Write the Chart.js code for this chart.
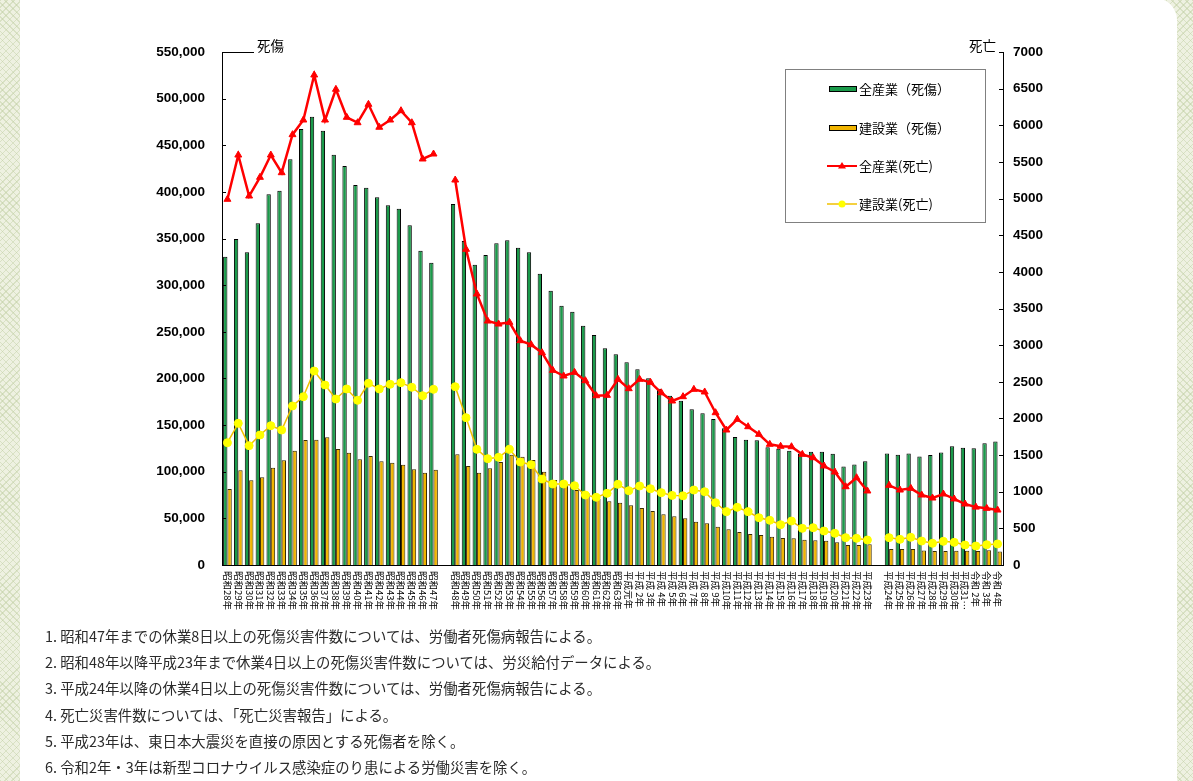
<!DOCTYPE html>
<html lang="ja">
<head>
<meta charset="utf-8">
<title>労働災害発生状況の推移</title>
<script src="https://cdn.jsdelivr.net/npm/chart.js@4/dist/chart.umd.min.js"></script>
<style>
  html, body { margin: 0; padding: 0; }
  body {
    width: 1193px;
    height: 781px;
    overflow: hidden;
    position: relative;
    background-color: #eef1e1;
    background-image:
      repeating-linear-gradient(45deg, rgba(190, 205, 160, 0.45) 0 1px, transparent 1px 5px),
      repeating-linear-gradient(-45deg, rgba(190, 205, 160, 0.45) 0 1px, transparent 1px 5px);
  }
  .panel {
    position: absolute;
    left: 20px;
    top: -2px;
    width: 1157px;
    height: 830px;
    background: #fff;
    border-radius: 0 22px 0 0;
  }
  #chart-wrap { position: absolute; left: 0; top: 0; width: 1193px; height: 625px; }
  .notes {
    position: absolute;
    left: 45px;
    top: 623px;
    font-family: "Noto Sans CJK JP", "Noto Sans", sans-serif;
    font-size: 14.4px;
    line-height: 26.2px;
    color: #2b2b2b;
  }
</style>
</head>
<body>
<div class="panel"></div>
<div id="chart-wrap"><canvas id="accident-chart" width="1193" height="625"></canvas></div>
<div class="notes">
  <div>1. 昭和47年までの休業8日以上の死傷災害件数については、労働者死傷病報告による。</div>
  <div>2. 昭和48年以降平成23年まで休業4日以上の死傷災害件数については、労災給付データによる。</div>
  <div>3. 平成24年以降の休業4日以上の死傷災害件数については、労働者死傷病報告による。</div>
  <div>4. 死亡災害件数については、「死亡災害報告」による。</div>
  <div>5. 平成23年は、東日本大震災を直接の原因とする死傷者を除く。</div>
  <div>6. 令和2年・3年は新型コロナウイルス感染症のり患による労働災害を除く。</div>
</div>
<script>
// Year labels (empty strings are the breaks in the series)
const yearLabels = [
  "昭和28年", "昭和29年", "昭和30年", "昭和31年", "昭和32年", "昭和33年", "昭和34年",
  "昭和35年", "昭和36年", "昭和37年", "昭和38年", "昭和39年", "昭和40年", "昭和41年",
  "昭和42年", "昭和43年", "昭和44年", "昭和45年", "昭和46年", "昭和47年",
  "",
  "昭和48年", "昭和49年", "昭和50年", "昭和51年", "昭和52年", "昭和53年", "昭和54年",
  "昭和55年", "昭和56年", "昭和57年", "昭和58年", "昭和59年", "昭和60年", "昭和61年",
  "昭和62年", "昭和63年",
  "平成元年", "平成 2年", "平成 3年", "平成 4年", "平成 5年", "平成 6年", "平成 7年",
  "平成 8年", "平成 9年", "平成10年", "平成11年", "平成12年", "平成13年", "平成14年",
  "平成15年", "平成16年", "平成17年", "平成18年", "平成19年", "平成20年", "平成21年",
  "平成22年", "平成23年",
  "",
  "平成24年", "平成25年", "平成26年", "平成27年", "平成28年", "平成29年", "平成30年",
  "平成31…", "令和 2年", "令和 3年", "令和 4年",
];

// 全産業（死傷） - left axis
const allCasualties = [
  330500, 349500, 335200, 366300, 397400, 401300, 434900, 467400, 480600, 465600,
  439900, 427800, 407400, 404500, 394200, 385600, 382000, 364200, 337000, 324100,
  null,
  387000, 347400, 322000, 332400, 344900, 348100, 340200, 335200, 312300, 294100,
  278000, 271600, 256600, 246600, 232300, 225900,
  217300, 209800, 200200, 189000, 181500, 176100, 166900, 162600, 156500, 146500,
  137200, 134300, 133700, 126200, 124700, 122500, 119500, 121400, 121300, 119300,
  105700, 107800, 111300,
  null,
  119600, 118200, 119500, 116300, 117900, 120500, 127300, 125600, 125100, 130600, 132400,
];

// 建設業（死傷） - left axis
const constructionCasualties = [
  81500, 101500, 90800, 94000, 104300, 112200, 122600, 134000, 134300, 136900,
  124400, 120400, 113300, 116900, 111200, 109700, 107500, 102600, 99000, 102200,
  null,
  118700, 106100, 99000, 103700, 110400, 118300, 116100, 112600, 100000, 91100,
  85800, 80400, 76900, 70800, 68300, 66800,
  64000, 61100, 57900, 54400, 52200, 50100, 46400, 44700, 41100, 38300,
  35400, 33200, 32200, 30400, 28900, 28600, 27100, 26500, 26100, 24300,
  21400, 21400, 22200,
  null,
  17100, 17200, 17200, 15600, 15100, 15100, 15400, 15200, 15000, 15700, 14500,
];

// 全産業(死亡) - right axis
const allDeaths = [
  4990, 5594, 5035, 5290, 5594, 5353, 5872, 6072, 6686, 6072,
  6491, 6109, 6035, 6286, 5973, 6072, 6199, 6035, 5540, 5608,
  null,
  5253, 4308, 3698, 3329, 3288, 3311, 3061, 3006, 2897, 2656,
  2579, 2629, 2515, 2310, 2315, 2534,
  2406, 2534, 2493, 2350, 2238, 2297, 2397, 2361, 2078, 1842,
  1988, 1887, 1783, 1647, 1620, 1614, 1510, 1464, 1351, 1269,
  1068, 1191, 1010,
  null,
  1087, 1023, 1046, 955, 914, 969, 901, 832, 790, 773, 750,
];

// 建設業(死亡) - right axis
const constructionDeaths = [
  1669, 1933, 1628, 1774, 1901, 1842, 2170, 2297, 2647, 2456,
  2265, 2402, 2247, 2479, 2402, 2466, 2488, 2425, 2310, 2397,
  null,
  2433, 2010, 1579, 1451, 1469, 1579, 1405, 1369, 1173, 1105,
  1105, 1082, 955, 924, 978, 1101,
  1014, 1078, 1041, 987, 950, 944, 1023, 1000, 850, 727,
  787, 727, 645, 610, 550, 600, 500, 509, 464, 433,
  373, 364, 341,
  null,
  373, 350, 378, 327, 296, 323, 309, 273, 259, 277, 287,
];

const casualtyTicks = { min: 0, max: 550000, step: 50000 };
const deathTicks = { min: 0, max: 7000, step: 500 };

const numFont = { family: "'Liberation Sans', Arial, sans-serif", size: 13.5, weight: "bold" };
const jpFont = "'Noto Sans CJK JP', 'Noto Sans', sans-serif";

// Draws rotated year labels, inward tick marks, axis titles and the boxed legend
const decorations = {
  id: "decorations",
  afterDraw(chart) {
    const ctx = chart.ctx;
    const x = chart.scales.x;
    const yL = chart.scales.y;
    const yR = chart.scales.y2;
    const area = chart.chartArea;

    ctx.save();

    // year labels, reading top to bottom
    ctx.fillStyle = "#000";
    ctx.font = "9.5px " + jpFont;
    ctx.textAlign = "left";
    ctx.textBaseline = "middle";
    yearLabels.forEach((label, i) => {
      if (!label) return;
      ctx.save();
      ctx.translate(x.getPixelForValue(i), area.bottom + 6);
      ctx.rotate(Math.PI / 2);
      ctx.fillText(label, 0, 0);
      ctx.restore();
    });

    // inward tick marks
    ctx.strokeStyle = "#000";
    ctx.lineWidth = 1;
    ctx.beginPath();
    for (let v = casualtyTicks.min; v <= casualtyTicks.max; v += casualtyTicks.step) {
      const py = Math.round(yL.getPixelForValue(v)) + 0.5;
      ctx.moveTo(area.left, py);
      ctx.lineTo(area.left + 4, py);
    }
    for (let v = deathTicks.min; v <= deathTicks.max; v += deathTicks.step) {
      const py = Math.round(yR.getPixelForValue(v)) + 0.5;
      ctx.moveTo(area.right - 4, py);
      ctx.lineTo(area.right, py);
    }
    // short top edge next to the left title
    ctx.moveTo(area.left, Math.round(area.top) + 0.5);
    ctx.lineTo(area.left + 32, Math.round(area.top) + 0.5);
    ctx.stroke();

    // axis titles
    ctx.font = "13.5px " + jpFont;
    ctx.textBaseline = "alphabetic";
    ctx.textAlign = "left";
    ctx.fillText("死傷", area.left + 35, area.top - 1);
    ctx.textAlign = "right";
    ctx.fillText("死亡", area.right - 7, area.top - 1);

    // legend box
    const box = { left: 785.5, top: 69.5, width: 200, height: 153 };
    ctx.fillStyle = "#fff";
    ctx.fillRect(box.left, box.top, box.width, box.height);
    ctx.strokeStyle = "#808080";
    ctx.strokeRect(box.left, box.top, box.width, box.height);

    const rows = [89, 128, 166, 204];
    chart.data.datasets.forEach((ds, i) => {
      const ry = rows[i];
      if (ds.type === "bar") {
        ctx.fillStyle = ds.backgroundColor;
        ctx.fillRect(829.5, ry - 2.5, 27, 5);
        ctx.strokeStyle = "#000";
        ctx.strokeRect(829.5, ry - 2.5, 27, 5);
      } else {
        ctx.strokeStyle = ds.borderColor;
        ctx.lineWidth = i === 2 ? 2 : 1.5;
        ctx.beginPath();
        ctx.moveTo(827, ry);
        ctx.lineTo(857, ry);
        ctx.stroke();
        ctx.fillStyle = ds.pointBackgroundColor;
        ctx.beginPath();
        if (ds.pointStyle === "triangle") {
          ctx.moveTo(842, ry - 4);
          ctx.lineTo(846, ry + 2.5);
          ctx.lineTo(838, ry + 2.5);
          ctx.closePath();
        } else {
          ctx.arc(842, ry, 3.5, 0, Math.PI * 2);
        }
        ctx.fill();
        ctx.lineWidth = 1;
      }
      ctx.fillStyle = "#000";
      ctx.font = "13px " + jpFont;
      ctx.textAlign = "left";
      ctx.textBaseline = "middle";
      ctx.fillText(ds.label, 859, ry);
    });

    ctx.restore();
  },
};

const chartCtx = document.getElementById("accident-chart").getContext("2d");

const accidentChart = new Chart(chartCtx, {
  data: {
    labels: yearLabels,
    datasets: [
      {
        type: "bar",
        label: "全産業（死傷）",
        data: allCasualties,
        yAxisID: "y",
        backgroundColor: "#1a9a4a",
        borderColor: "#000",
        borderWidth: 1,
        categoryPercentage: 0.8,
        barPercentage: 1.0,
        order: 2,
      },
      {
        type: "bar",
        label: "建設業（死傷）",
        data: constructionCasualties,
        yAxisID: "y",
        backgroundColor: "#f0b400",
        borderColor: "#3a2c00",
        borderWidth: 1,
        categoryPercentage: 0.8,
        barPercentage: 1.0,
        order: 2,
      },
      {
        type: "line",
        label: "全産業(死亡)",
        data: allDeaths,
        yAxisID: "y2",
        borderColor: "#ff0000",
        borderWidth: 2.5,
        pointStyle: "triangle",
        pointRadius: 4,
        pointBackgroundColor: "#ff0000",
        pointBorderColor: "#ff0000",
        pointBorderWidth: 1,
        tension: 0,
        spanGaps: false,
        order: 0,
      },
      {
        type: "line",
        label: "建設業(死亡)",
        data: constructionDeaths,
        yAxisID: "y2",
        borderColor: "#f0c000",
        borderWidth: 1.5,
        pointStyle: "circle",
        pointRadius: 4,
        pointBackgroundColor: "#ffff00",
        pointBorderColor: "#ffff00",
        pointBorderWidth: 1,
        tension: 0,
        spanGaps: false,
        order: 1,
      },
    ],
  },
  options: {
    responsive: false,
    animation: false,
    layout: { padding: { top: 52, right: 0, bottom: 0, left: 0 } },
    plugins: {
      legend: { display: false },
      tooltip: { enabled: false },
    },
    scales: {
      x: {
        type: "category",
        offset: true,
        grid: { display: false, drawTicks: false },
        border: { display: true, color: "#000", width: 1 },
        ticks: { display: false },
        afterFit: (scale) => { scale.height = 60; },
      },
      y: {
        position: "left",
        min: casualtyTicks.min,
        max: casualtyTicks.max,
        grid: { display: false, drawTicks: false },
        border: { display: true, color: "#000", width: 1 },
        ticks: {
          stepSize: casualtyTicks.step,
          padding: 17,
          color: "#000",
          font: numFont,
          callback: (v) => v.toLocaleString("en-US"),
        },
        afterFit: (scale) => { scale.width = 222; },
      },
      y2: {
        position: "right",
        min: deathTicks.min,
        max: deathTicks.max,
        grid: { display: false, drawTicks: false },
        border: { display: true, color: "#000", width: 1 },
        ticks: {
          stepSize: deathTicks.step,
          padding: 10,
          color: "#000",
          font: numFont,
          callback: (v) => String(v),
        },
        afterFit: (scale) => { scale.width = 190; },
      },
    },
  },
  plugins: [decorations],
});
</script>
</body>
</html>
